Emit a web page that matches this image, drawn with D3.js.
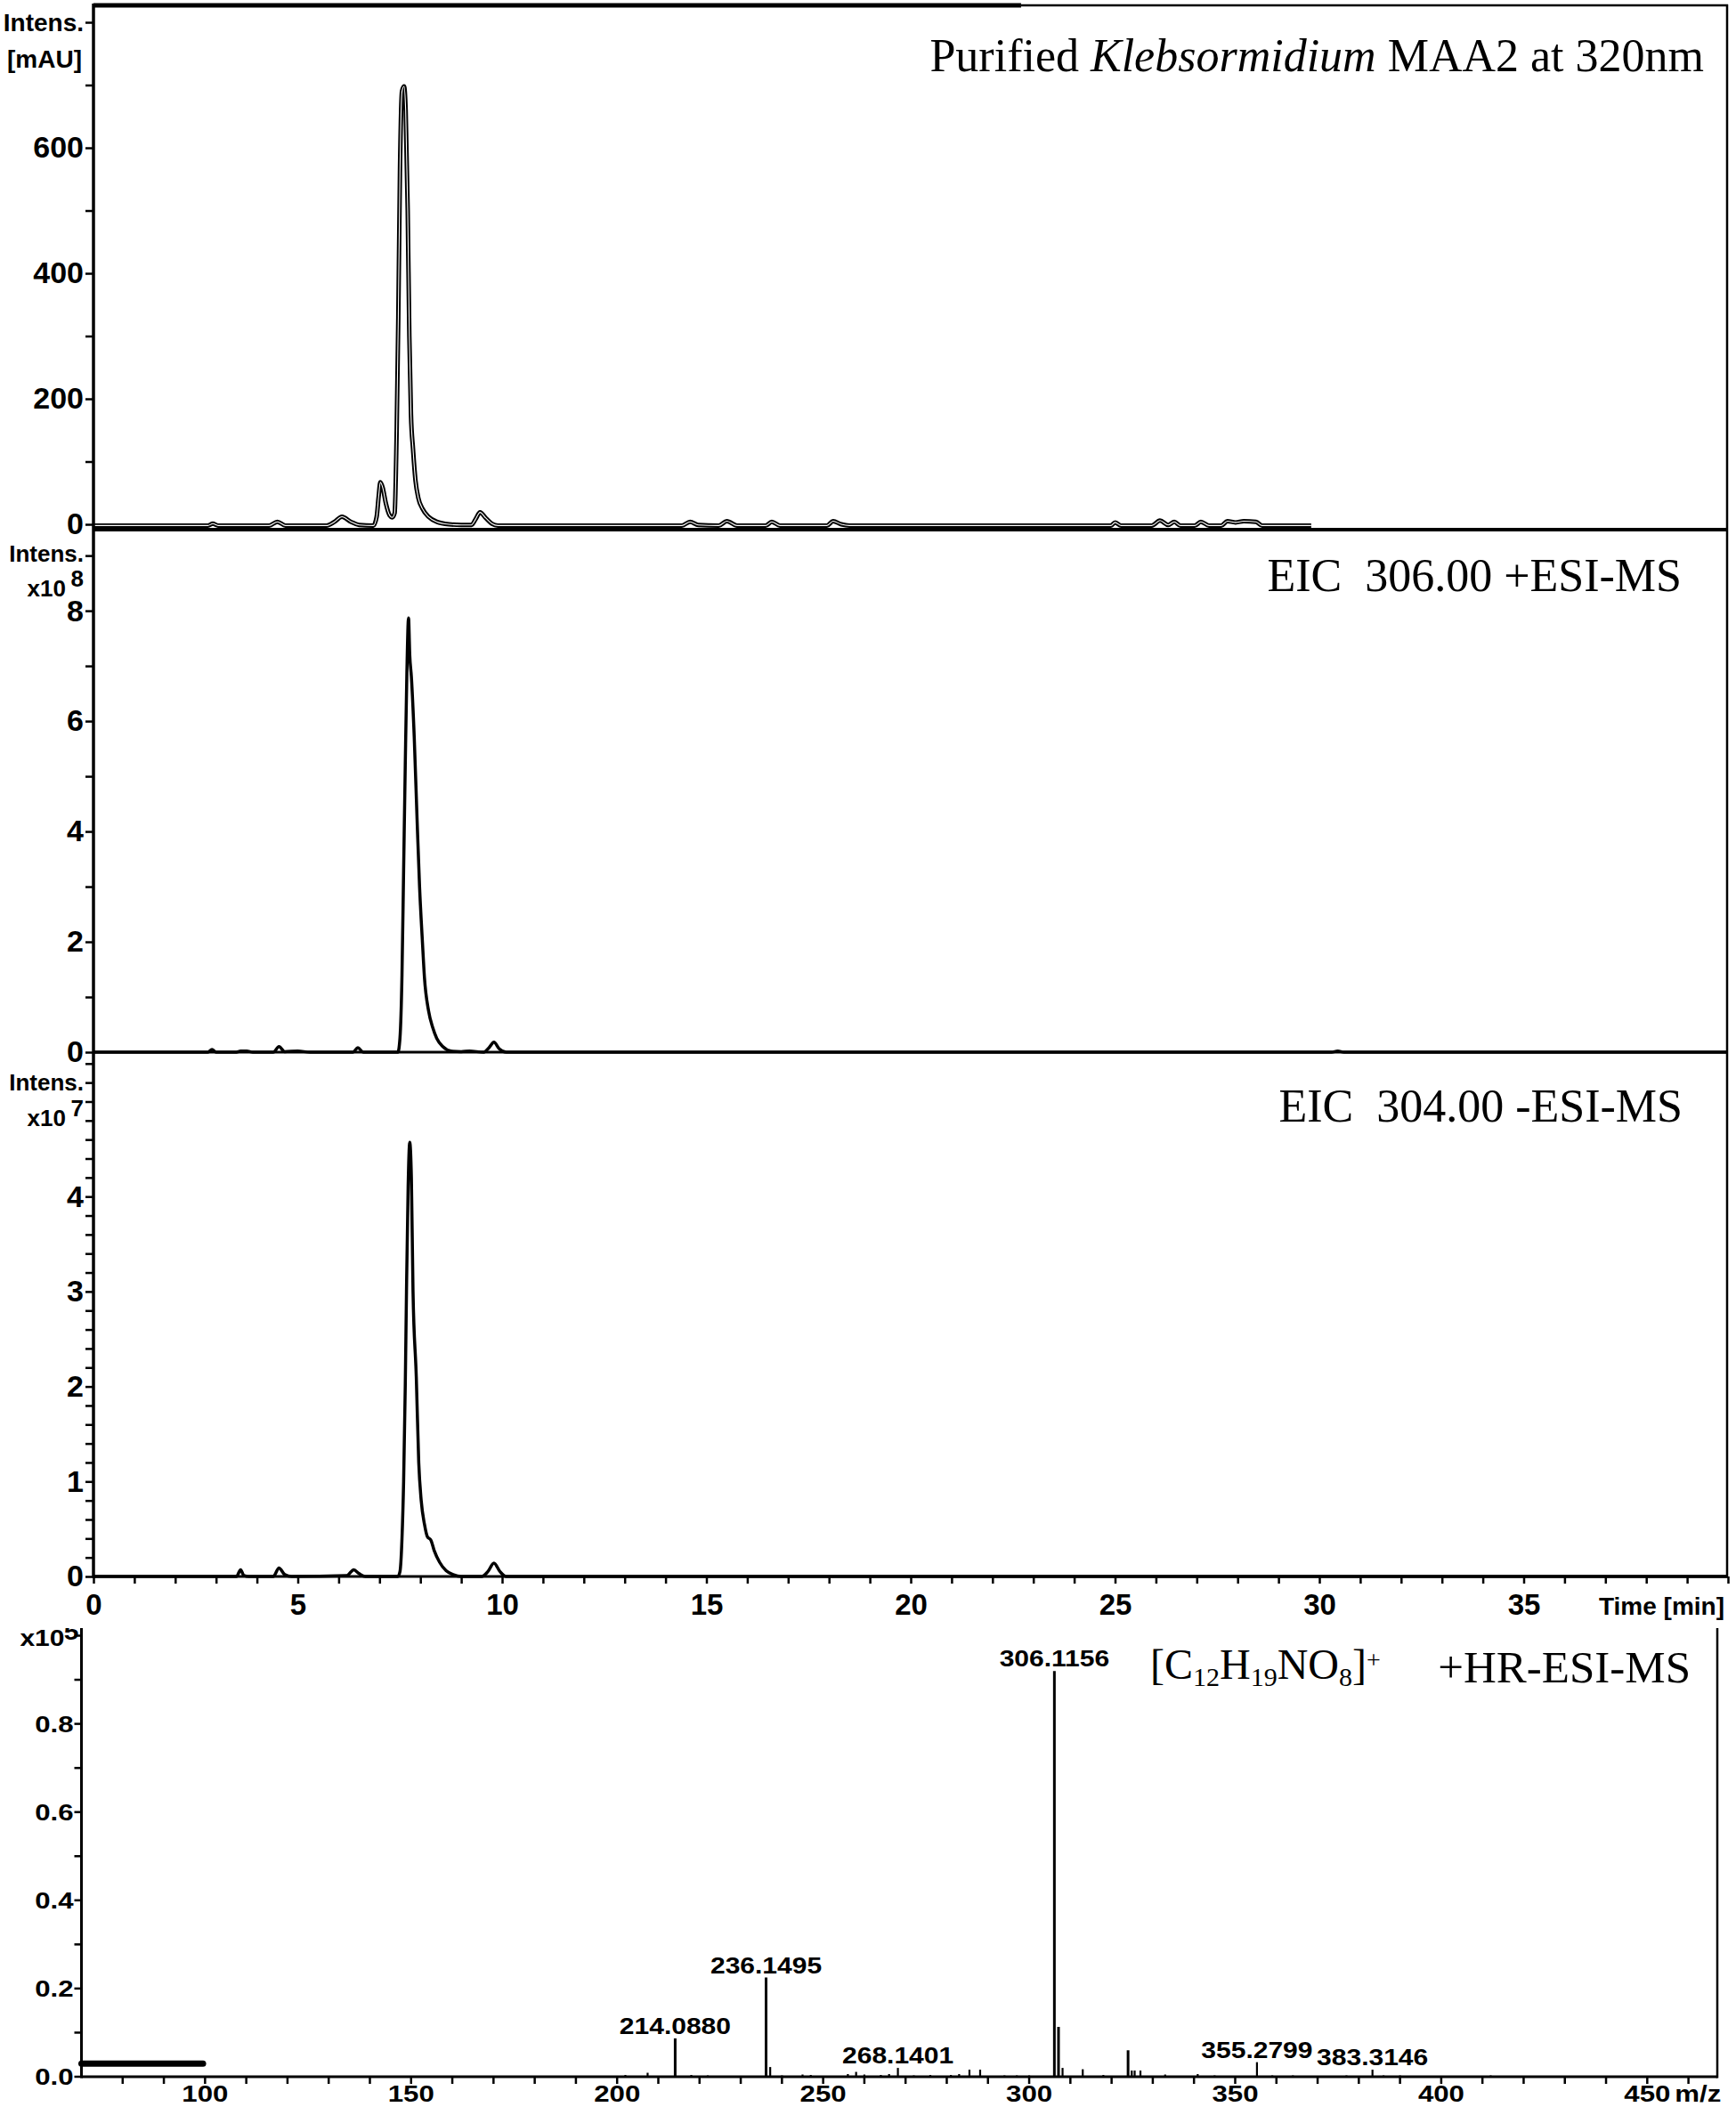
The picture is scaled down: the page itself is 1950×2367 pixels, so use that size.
<!DOCTYPE html>
<html><head><meta charset="utf-8">
<script src="https://cdn.jsdelivr.net/npm/d3@7/dist/d3.min.js"></script>
<style>body{margin:0;background:#fff}</style>
</head><body>
<svg id="c" width="1950" height="2367"></svg>
<script>
// ---------- DATA ----------
// Panel A: UV chromatogram at 320 nm (mAU)
const uvTime = [0,2.8,2.92,3.05,4.3,4.5,4.7,5.7,5.9,6.08,6.3,6.5,6.85,6.93,6.98,7.02,7.08,7.15,7.25,7.31,7.37,7.42,7.46,7.5,7.55,7.6,7.64,7.69,7.73,7.77,7.82,7.88,7.95,8.05,8.2,8.4,8.7,9.0,9.25,9.35,9.46,9.6,9.75,9.9,14.4,14.6,14.8,15.3,15.5,15.75,16.45,16.6,16.8,17.95,18.1,18.3,18.5,24.9,25.0,25.15,25.9,26.1,26.3,26.45,26.6,26.95,27.1,27.3,27.6,27.75,27.95,28.15,28.45,28.6,29.8];
const uvIntensity = [-2,-2,1,-2,-2,4,-2,-2,4,12,4,-1,-2,12,45,67,58,35,14,11,18,150,330,560,690,698,660,500,300,175,120,70,42,25,12,4,0,-1,-1,8,19,10,1,-2,-2,4,-1,-2,5,-2,-2,4,-2,-2,5,0,-2,-2,3,-2,-2,6,-1,4,-2,-2,4,-2,-2,5,3,5,4,-2,-2];

// Panel B: EIC 306.00 +ESI-MS (x10^8)
const eic306Time = [0,2.8,2.9,3.0,3.5,3.6,3.75,3.9,4.4,4.54,4.68,5.0,5.3,6.35,6.47,6.6,7.45,7.5,7.55,7.59,7.63,7.67,7.71,7.74,7.78,7.85,7.92,7.98,8.05,8.1,8.2,8.3,8.4,8.55,8.75,9.0,9.2,9.55,9.68,9.8,9.93,10.1,30.3,30.45,30.6,40];
const eic306Intensity = [0,0,0.05,0,0,0.02,0.02,0,0,0.1,0.01,0.02,0,0,0.08,0,0,0.25,1.4,3.3,5.2,6.9,7.87,7.2,6.8,5.7,4.2,3.0,2.0,1.35,0.75,0.45,0.25,0.1,0.02,0.01,0.02,0,0.08,0.18,0.06,0,0,0.02,0,0];

// Panel C: EIC 304.00 -ESI-MS (x10^7)
const eic304Time = [0,3.5,3.6,3.68,3.8,4.4,4.54,4.68,4.85,6.2,6.37,6.5,6.65,7.45,7.5,7.55,7.59,7.63,7.66,7.7,7.74,7.78,7.82,7.9,7.96,8.02,8.1,8.17,8.26,8.34,8.47,8.63,8.8,9.0,9.5,9.65,9.8,9.95,10.1,40];
const eic304Intensity = [0,0,0.07,0.01,0,0,0.09,0.02,0,0.01,0.07,0.03,0,0,0.05,0.4,1.0,2.0,3.0,4.1,4.57,4.2,3.0,2.1,1.2,0.8,0.55,0.42,0.38,0.27,0.15,0.06,0.02,0,0,0.05,0.14,0.05,0,0];

// Panel D: +HR-ESI-MS spectrum (x10^5)
const msMz = [202,207.4,214.088,218,222,236.1495,237.15,240,245,247,256,258.0,260,264,266,268.1401,272,276,281,283,285.5,288.1,294,297,300,306.1156,307.12,308.1,313.0,318,324.0,324.9,325.6,327.0,333,340.9,345,355.2799,359,364,377,383.3146,386,390,412];
const msIntensity = [0.004,0.009,0.087,0.004,0.003,0.225,0.022,0.003,0.005,0.004,0.006,0.011,0.005,0.004,0.006,0.02,0.003,0.004,0.004,0.006,0.016,0.016,0.003,0.003,0.003,0.92,0.113,0.02,0.017,0.004,0.06,0.014,0.014,0.014,0.005,0.006,0.003,0.033,0.003,0.003,0.003,0.016,0.003,0.003,0.003];
const msLabelMz = [214.088,236.1495,268.1401,306.1156,355.2799,383.3146];
const msLabelInt = [0.087,0.225,0.02,0.92,0.033,0.016];
const msLabelText = ["214.0880","236.1495","268.1401","306.1156","355.2799","383.3146"];
const msBarMz = [70,99.5];
const msBarInt = 0.03;

// Tick labels
const timeTicks = d3.range(0,41,1);
const timeLabels = [0,5,10,15,20,25,30,35];
const uvTicks = d3.range(0,801,100);
const uvLabels = [0,200,400,600];
const eic306Ticks = d3.range(0,10,1);
const eic306Labels = [0,2,4,6,8];
const eic304Ticks = d3.range(0,28,1).map(i=>i/5);
const eic304Labels = [0,1,2,3,4];
const mzTicks = d3.range(80,461,10);
const mzLabels = [100,150,200,250,300,350,400,450];
const msTicks = d3.range(0,11,1).map(i=>i/10);
const msLabels = ["0.0","0.2","0.4","0.6","0.8"];

// ---------- DRAW ----------
const sans = "'Liberation Sans', Arial, Helvetica, sans-serif";
const serif = "'Liberation Serif', 'Times New Roman', serif";
const svg = d3.select("#c");
svg.append("rect").attr("width",1950).attr("height",2367).attr("fill","#fff");

const tX = d3.scaleLinear().domain([0,40]).range([105,1941]);
const y1 = d3.scaleLinear().domain([-8.5,827]).range([595,6]);
const y2 = d3.scaleLinear().domain([0,9.47]).range([1182,595]);
const y3 = d3.scaleLinear().domain([0,5.52]).range([1771,1182]);
const mzX = d3.scaleLinear().domain([70,467]).range([91.5,1929]);
const msY = d3.scaleLinear().domain([0,1]).range([2333,1837.5]);

function yAxis(scale, ticks, labels, x, fmt, size) {
  const g = svg.append("g").attr("transform",`translate(${x},0)`)
    .call(d3.axisLeft(scale).tickValues(ticks).tickSize(9).tickPadding(2)
      .tickFormat(d => labels.some(l => Math.abs(l-d)<1e-9) ? fmt(d) : ""));
  g.select(".domain").remove();
  g.selectAll(".tick line").attr("stroke","#000").attr("stroke-width",2.5);
  g.selectAll(".tick text").attr("font-family",sans).attr("font-weight","bold")
    .attr("font-size",size).attr("fill","#000");
  return g;
}

// traces
function trace(xs, ys, yScale, hollow) {
  const data = d3.zip(xs, ys);
  const ln = d3.line().x(d=>tX(d[0])).y(d=>yScale(d[1])).curve(d3.curveMonotoneX);
  if (hollow) {
    svg.append("path").attr("d",ln(data)).attr("fill","none").attr("stroke","#000")
      .attr("stroke-width",5).attr("stroke-linejoin","round");
    svg.append("path").attr("d",ln(data)).attr("fill","none").attr("stroke","#fff")
      .attr("stroke-width",1.1).attr("stroke-linejoin","round");
  } else {
    svg.append("path").attr("d",ln(data)).attr("fill","none").attr("stroke","#000")
      .attr("stroke-width",3.5).attr("stroke-linejoin","round");
  }
}
trace(uvTime, uvIntensity, y1, true);
trace(eic306Time, eic306Intensity, y2, false);
trace(eic304Time, eic304Intensity, y3, false);

// y axes of chromatograms
yAxis(y1, uvTicks, uvLabels, 105, d=>d, 34);
yAxis(y2, eic306Ticks, eic306Labels, 105, d=>d, 34);
yAxis(y3, eic304Ticks, eic304Labels, 105, d=>d, 34);

// x axis of chromatograms
const gx = svg.append("g").attr("transform","translate(0,1771)")
  .call(d3.axisBottom(tX).tickValues(timeTicks).tickSize(8).tickPadding(12)
    .tickFormat(d => timeLabels.includes(d) ? d : ""));
gx.select(".domain").remove();
gx.selectAll(".tick line").attr("stroke","#000").attr("stroke-width",2.5);
gx.selectAll(".tick text").attr("font-family",sans).attr("font-weight","bold")
  .attr("font-size",33).attr("fill","#000");
svg.append("text").attr("x",1937).attr("y",1814).attr("text-anchor","end")
  .attr("font-family",sans).attr("font-weight","bold").attr("font-size",28).text("Time [min]");

// frames
const L = (x1,y1_,x2,y2_,w) => svg.append("line").attr("x1",x1).attr("y1",y1_).attr("x2",x2).attr("y2",y2_)
  .attr("stroke","#000").attr("stroke-width",w);
L(tX(0), y1.range()[1], tX(22.7), y1.range()[1], 5);
L(tX(22.7), y1.range()[1], tX(40), y1.range()[1], 2.5);
L(tX(0), y1.range()[0], tX(40), y1.range()[0], 4);
L(tX(0), y2(0), tX(40), y2(0), 3.2);
L(tX(0), y3(0), tX(40), y3(0), 3.2);
L(tX(0), y1.range()[1]-2, tX(0), y3(0)+1.5, 3.5);
L(tX(40)-1, y1.range()[1]-1, tX(40)-1, y3(0)+1, 2.5);

// intensity unit labels
function unitLabel(y, txt, x, size) {
  svg.append("text").attr("x",x||94).attr("y",y).attr("text-anchor","end")
    .attr("font-family",sans).attr("font-weight","bold").attr("font-size",size||26).attr("fill","#000").text(txt);
}
unitLabel(y1(800)+10, "Intens.", 94, 28);
unitLabel(76, "[mAU]", 92, 28);
unitLabel(631, "Intens.");
unitLabel(670, "x10", 74);
unitLabel(659, "8", 94);
unitLabel(1225, "Intens.");
unitLabel(1265, "x10", 74);
unitLabel(1254, "7", 94);

// annotations
const a1 = svg.append("text").attr("x",1914).attr("y",80).attr("text-anchor","end")
  .attr("font-family",serif).attr("font-size",52).style("white-space","pre");
a1.append("tspan").text("Purified ");
a1.append("tspan").attr("font-style","italic").text("Klebsormidium");
a1.append("tspan").text(" MAA2 at 320nm");
svg.append("text").attr("x",1889).attr("y",664).attr("text-anchor","end")
  .attr("font-family",serif).attr("font-size",52).style("white-space","pre").text("EIC  306.00 +ESI-MS");
svg.append("text").attr("x",1890).attr("y",1260).attr("text-anchor","end")
  .attr("font-family",serif).attr("font-size",52).style("white-space","pre").text("EIC  304.00 -ESI-MS");

// ---------- MS spectrum ----------
const stretch = 1.2;
function wideText(x, y, txt, anchor, size) {
  return svg.append("g").attr("transform",`translate(${x},${y}) scale(${stretch},1)`)
    .append("text").attr("text-anchor",anchor).attr("font-family",sans).attr("font-weight","bold")
    .attr("font-size",size).attr("fill","#000").text(txt);
}
// sticks
svg.append("g").selectAll("line").data(d3.zip(msMz, msIntensity)).join("line")
  .attr("x1",d=>mzX(d[0])).attr("x2",d=>mzX(d[0]))
  .attr("y1",msY(0)).attr("y2",d=>msY(d[1]))
  .attr("stroke","#000").attr("stroke-width",d=>d[1]>0.05?3:2.2);
// bar artifact
svg.append("line").attr("x1",mzX(msBarMz[0])).attr("x2",mzX(msBarMz[1]))
  .attr("y1",msY(msBarInt)).attr("y2",msY(msBarInt))
  .attr("stroke","#000").attr("stroke-width",7).attr("stroke-linecap","round");
// axes lines
L(mzX(70), msY(0), mzX(467), msY(0), 3);
L(mzX(70), msY(0)+1.5, mzX(70), msY(1.017), 3);
L(mzX(467), msY(0)+1.5, mzX(467), msY(1.017), 2.5);
// x ticks
svg.append("g").selectAll("line").data(mzTicks).join("line")
  .attr("x1",d=>mzX(d)).attr("x2",d=>mzX(d)).attr("y1",msY(0)).attr("y2",msY(0)+8)
  .attr("stroke","#000").attr("stroke-width",2.5);
mzLabels.forEach(m => wideText(mzX(m), 2361, String(m), "middle", 26));
wideText(mzX(450)+31, 2361, "m/z", "start", 26);
// y ticks
svg.append("g").selectAll("line").data(msTicks).join("line")
  .attr("x1",mzX(70)-8).attr("x2",mzX(70)).attr("y1",d=>msY(d)).attr("y2",d=>msY(d))
  .attr("stroke","#000").attr("stroke-width",2.5);
msLabels.forEach(s => wideText(mzX(70)-9, msY(+s)+9, s, "end", 26));
// x10^5 label
wideText(mzX(70)-19, msY(1)+11, "x10", "end", 25);
svg.append("defs").append("clipPath").attr("id","clipTop")
  .append("rect").attr("x",0).attr("y",msY(1.017)).attr("width",200).attr("height",100);
svg.append("g").attr("clip-path","url(#clipTop)")
  .append("g").attr("transform",`translate(${mzX(70)-3},${msY(1)+4}) scale(${stretch},1)`)
  .append("text").attr("text-anchor","end").attr("font-family",sans).attr("font-weight","bold")
  .attr("font-size",25).text("5");
// peak labels
msLabelMz.forEach((m,i) => wideText(mzX(m), msY(msLabelInt[i])-5, msLabelText[i], "middle", 25));

// formula and method
const f = svg.append("text").attr("x",1292).attr("y",1886).attr("font-family",serif).attr("font-size",48);
f.append("tspan").text("[C");
f.append("tspan").attr("font-size",30).attr("dy",8).text("12");
f.append("tspan").attr("dy",-8).text("H");
f.append("tspan").attr("font-size",30).attr("dy",8).text("19");
f.append("tspan").attr("dy",-8).text("NO");
f.append("tspan").attr("font-size",30).attr("dy",8).text("8");
f.append("tspan").attr("dy",-8).text("]");
f.append("tspan").attr("font-size",28).attr("dy",-12).text("+");
svg.append("text").attr("x",1899).attr("y",1890).attr("text-anchor","end")
  .attr("font-family",serif).attr("font-size",51).text("+HR-ESI-MS");
</script>
</body></html>
